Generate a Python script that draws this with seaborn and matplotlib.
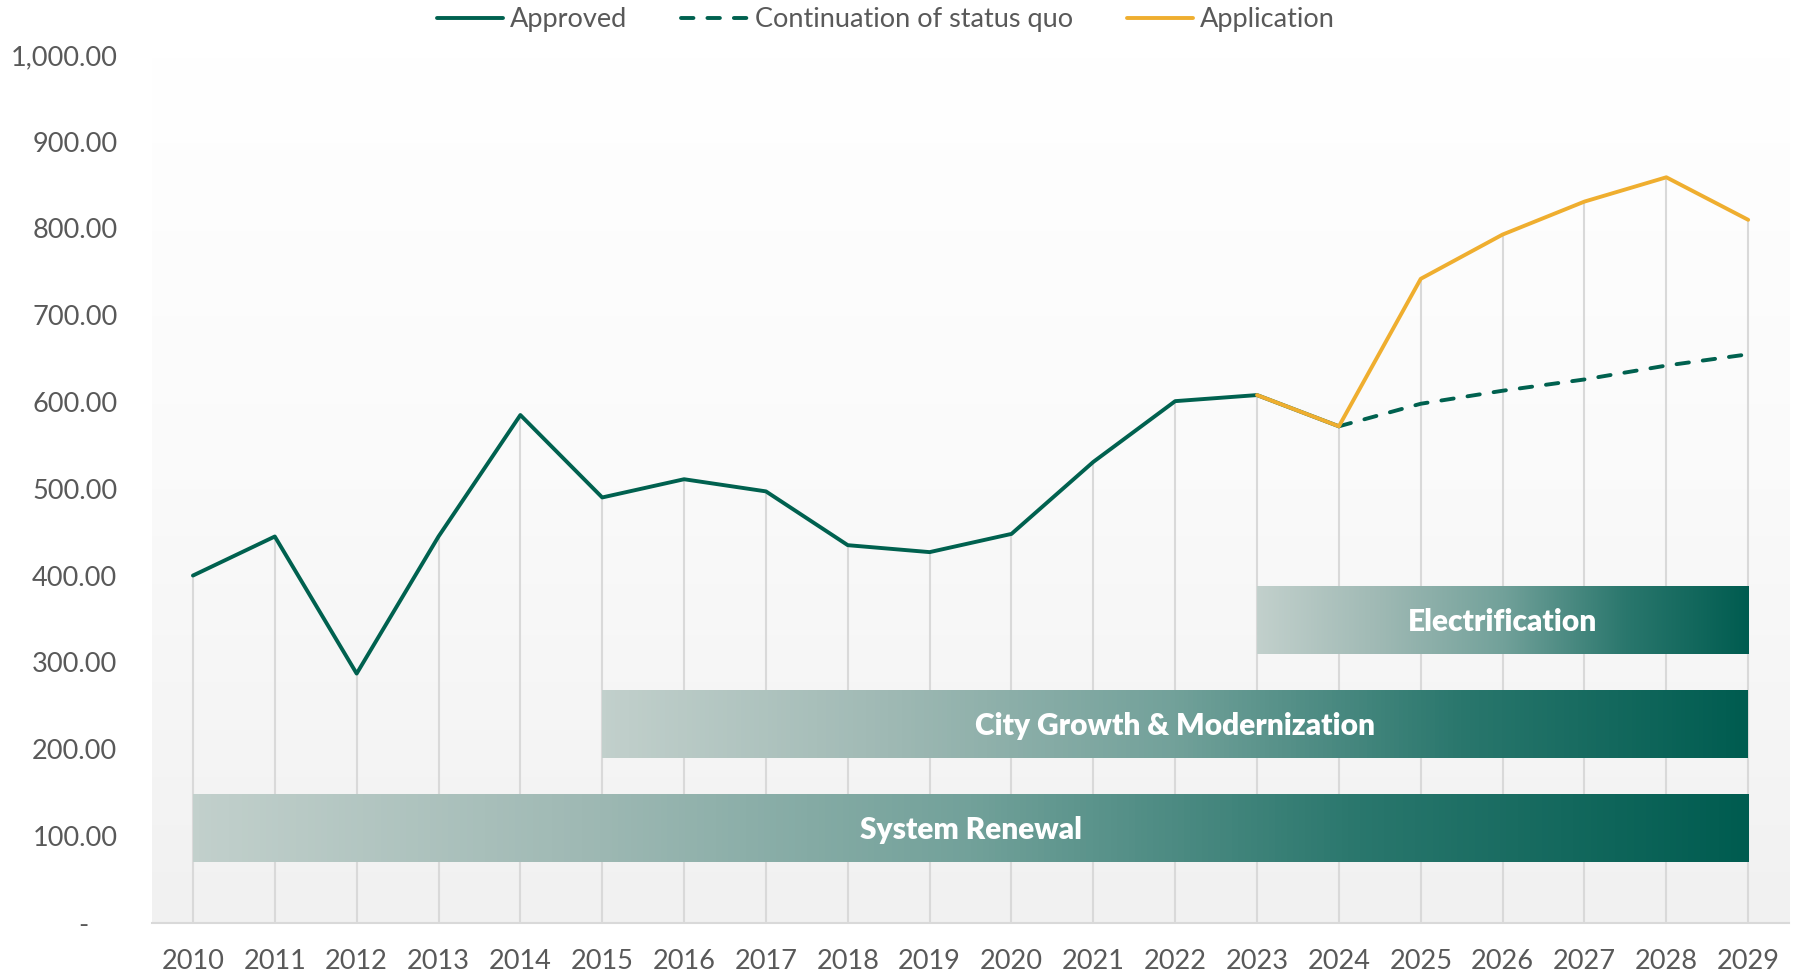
import numpy as np
import pandas as pd
import seaborn as sns
import matplotlib.pyplot as plt
from matplotlib.colors import LinearSegmentedColormap
from matplotlib.ticker import FuncFormatter

# данные
years = list(range(2010, 2030))
approved_years = list(range(2010, 2025))
approved = [400, 445, 287, 445, 585, 490, 511, 497, 435, 427, 448, 531, 601, 608, 572]
status_quo_years = list(range(2024, 2030))
status_quo = [572, 598, 613, 626, 642, 655]
application_years = list(range(2023, 2030))
application = [608, 572, 742, 793, 831, 859, 810]

band_labels = ["System Renewal", "City Growth & Modernization", "Electrification"]
band_start = [2010, 2015, 2023]
band_end = [2029, 2029, 2029]
band_low = [70, 190, 310]
band_high = [148, 268, 388]

GREEN = "#00614f"
ORANGE = "#efae2f"
GREY_TXT = "#595959"

sns.set_style("white")
plt.rcParams["font.family"] = ["Lato", "DejaVu Sans"]

fig = plt.figure(figsize=(17.97, 9.76), dpi=100)
ax = fig.add_axes([0.0846, 0.0547, 0.911, 0.889])

# фон области построения
bg_cmap = LinearSegmentedColormap.from_list("bg", ["#f1f1f1", "#fafafa", "#ffffff"])
ax.imshow(np.linspace(0, 1, 256).reshape(-1, 1), extent=[2009.5, 2029.5, 0, 1000],
          origin="lower", aspect="auto", cmap=bg_cmap, zorder=0)

# вертикальные линии до максимума серий
df = pd.concat([
    pd.DataFrame({"year": approved_years, "value": approved}),
    pd.DataFrame({"year": status_quo_years, "value": status_quo}),
    pd.DataFrame({"year": application_years, "value": application}),
])
tops = df.groupby("year")["value"].max()
ax.vlines(tops.index, 0, tops.values, color="#d9d9d9", lw=1.5, zorder=1)

# полосы с градиентом
band_cmap = LinearSegmentedColormap.from_list(
    "band", ["#c2d0cc", "#9fb9b4", "#72a19a", "#2a776d", "#005c50"])
for lab, x0, x1, y0, y1 in zip(band_labels, band_start, band_end, band_low, band_high):
    ax.imshow(np.linspace(0, 1, 256).reshape(1, -1), extent=[x0, x1, y0, y1],
              aspect="auto", cmap=band_cmap, zorder=2)
    ax.text((x0 + x1) / 2, (y0 + y1) / 2 - 2, lab, ha="center", va="center",
            color="white", fontsize=21.5, fontweight="heavy", zorder=3)

# линии
sns.lineplot(x=approved_years, y=approved, ax=ax, color=GREEN, lw=2.8,
             label="Approved", zorder=4)
sns.lineplot(x=status_quo_years, y=status_quo, ax=ax, color=GREEN, lw=2.8,
             label="Continuation of status quo", zorder=4,
             linestyle=(0, (3.2, 3.6)), dash_capstyle="round")
sns.lineplot(x=application_years, y=application, ax=ax, color=ORANGE, lw=2.8,
             label="Application", zorder=4)

handles, labels = ax.get_legend_handles_labels()
ax.get_legend().remove()
fig.legend(handles, labels, loc="center", bbox_to_anchor=(0.493, 0.980), ncol=3,
           frameon=False, fontsize=19.5, labelcolor=GREY_TXT, handlelength=2.45,
           handletextpad=0.25, columnspacing=2.0)

ax.set_xlim(2009.5, 2029.5)
ax.set_ylim(0, 1000)
ax.set_xticks(years)
ax.set_xticklabels([str(y) for y in years])
ax.set_yticks(range(0, 1001, 100))
ax.yaxis.set_major_formatter(FuncFormatter(lambda v, p: "-    " if v == 0 else f"{v:,.2f}"))
ax.tick_params(axis="both", length=0, labelsize=19.5, labelcolor=GREY_TXT)
ax.tick_params(axis="x", pad=19)
ax.tick_params(axis="y", pad=25)

for s in ["top", "right", "left"]:
    ax.spines[s].set_visible(False)
ax.spines["bottom"].set_color("#d9d9d9")
ax.spines["bottom"].set_linewidth(1.5)
ax.set_xlabel("")
ax.set_ylabel("")

fig.savefig("out.png", dpi=100)
